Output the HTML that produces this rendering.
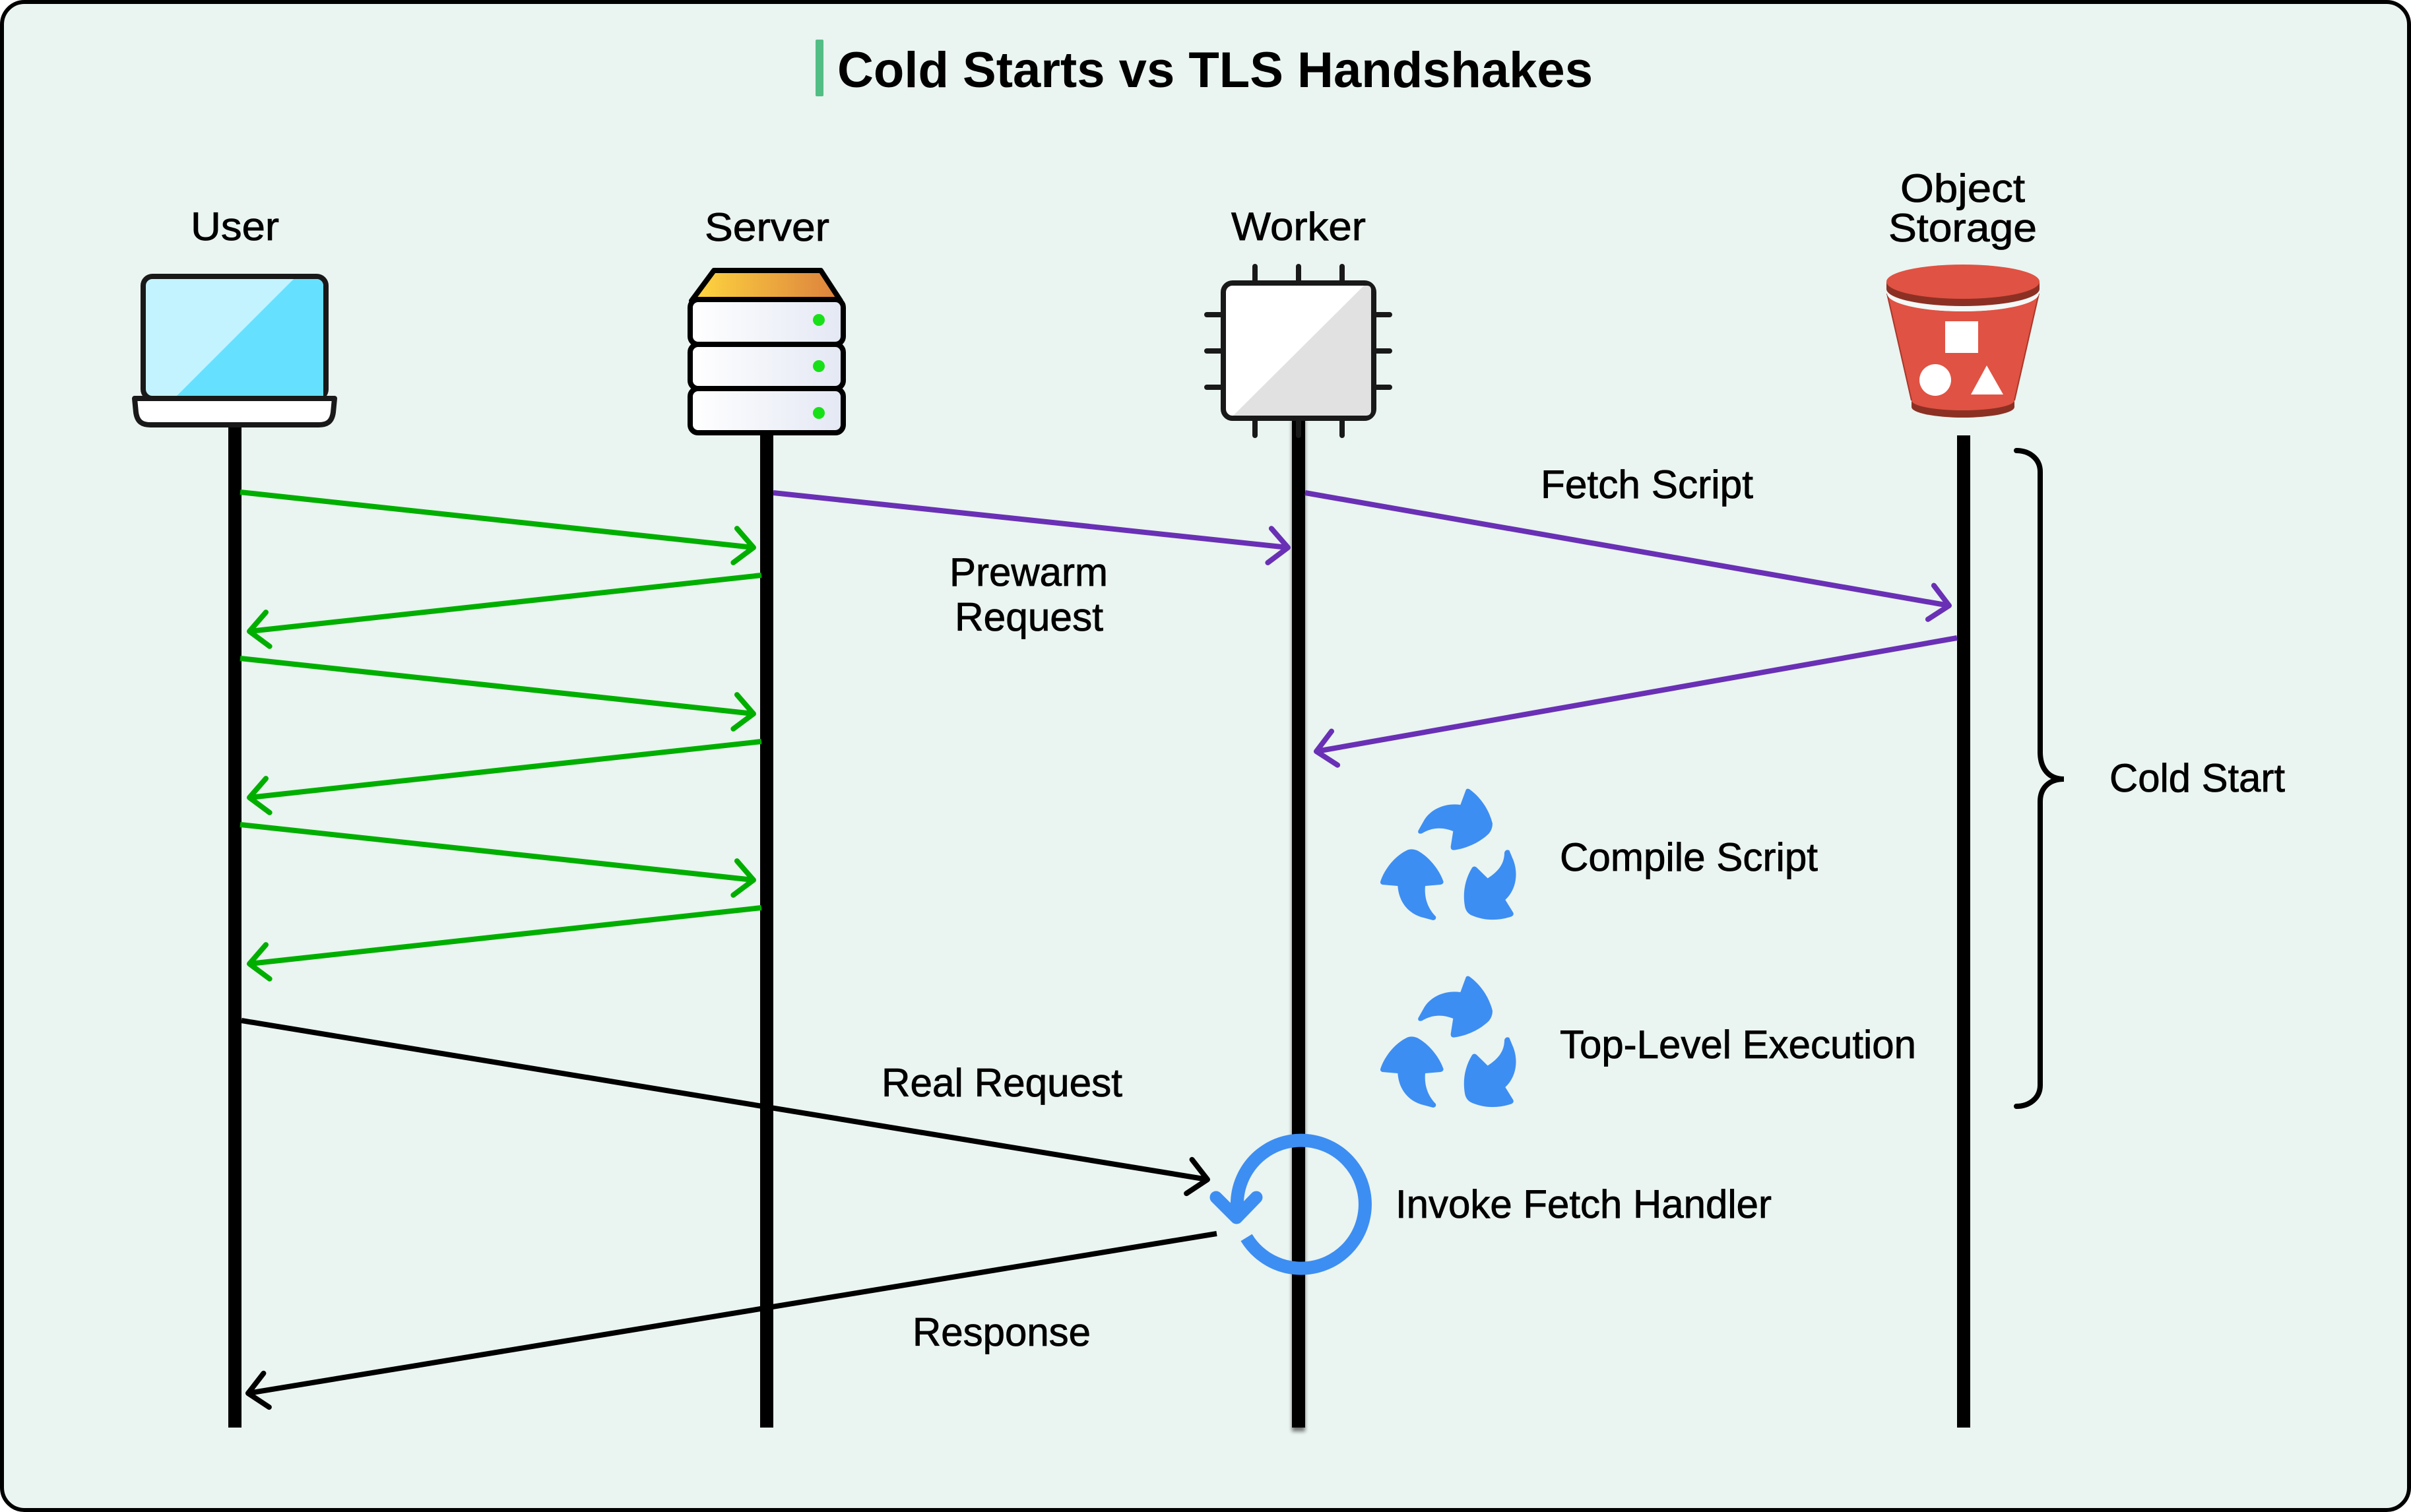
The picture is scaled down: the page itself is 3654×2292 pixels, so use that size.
<!DOCTYPE html>
<html lang="en">
<head>
<meta charset="utf-8">
<title>Cold Starts vs TLS Handshakes</title>
<style>
html,body{margin:0;padding:0;background:#fff}
svg{display:block}
text{font-family:"Liberation Sans",sans-serif;font-size:60px;fill:#000;stroke:#000;stroke-width:.8px}
</style>
</head>
<body>
<svg xmlns="http://www.w3.org/2000/svg" width="3654" height="2292" viewBox="0 0 3654 2292">
<defs>
<marker id="mg" markerUnits="userSpaceOnUse" viewBox="-40 -40 50 80" markerWidth="50" markerHeight="80" refX="0" refY="0" orient="auto"><path d="M-28 -26L0 0L-28 26" fill="none" stroke="#00AE00" stroke-width="8" stroke-linecap="round" stroke-linejoin="round"/></marker>
<marker id="mp" markerUnits="userSpaceOnUse" viewBox="-40 -40 50 80" markerWidth="50" markerHeight="80" refX="0" refY="0" orient="auto"><path d="M-28 -26L0 0L-28 26" fill="none" stroke="#6930B5" stroke-width="8" stroke-linecap="round" stroke-linejoin="round"/></marker>
<marker id="mk" markerUnits="userSpaceOnUse" viewBox="-40 -40 50 80" markerWidth="50" markerHeight="80" refX="0" refY="0" orient="auto"><path d="M-28 -26L0 0L-28 26" fill="none" stroke="#000" stroke-width="8" stroke-linecap="round" stroke-linejoin="round"/></marker>
<linearGradient id="gTop" x1="0" x2="1" y1="0" y2="0"><stop offset="0" stop-color="#FFD73F"/><stop offset="1" stop-color="#DC803D"/></linearGradient>
<linearGradient id="gRow" x1="0" x2="1" y1="0" y2="0"><stop offset="0" stop-color="#FFFFFF"/><stop offset="1" stop-color="#E4E8F4"/></linearGradient>
<filter id="blur" x="-100%" y="-5%" width="300%" height="110%"><feGaussianBlur stdDeviation="3"/></filter>
<g id="recycle" fill="#3D8EF2">
<path d="M328 298L355 250C385 200 450 170 520 180L545 112Q552 102 565 112C610 145 650 200 666 265Q666 290 650 310C610 350 550 378 490 386Q475 386 476 370L487 300C440 282 395 280 345 310Q325 315 328 298Z"/>
<path d="M156 530C175 470 225 410 280 385Q300 378 325 388C375 415 425 475 443 530Q443 540 430 543L360 549C355 600 370 650 408 688Q412 703 396 705L340 690C280 670 240 620 235 549L165 543Q155 540 156 530Z"/>
<path d="M720 398Q725 380 742 387L762 435C785 500 770 570 724 612L760 670Q765 682 752 688C690 708 630 708 570 682Q545 670 540 640C530 580 540 520 573 466Q583 455 595 466L644 514C690 485 720 450 720 398Z"/>
</g>
</defs>

<rect x="3" y="3" width="3648" height="2286" rx="34" ry="34" fill="#EAF4F0" stroke="#000" stroke-width="6"/>

<!-- title -->
<rect x="1236" y="60" width="12" height="86" rx="2" fill="#52BE85"/>
<text x="1269" y="132" style="font-size:76px;font-weight:700;stroke-width:0" textLength="1145" lengthAdjust="spacingAndGlyphs">Cold Starts vs TLS Handshakes</text>

<!-- lifelines -->
<rect x="346" y="640" width="20" height="1524" fill="#000"/>
<rect x="1152" y="650" width="20" height="1514" fill="#000"/>
<rect x="1958" y="636" width="20" height="1534" fill="#000" opacity=".5" filter="url(#blur)"/>
<rect x="1958" y="636" width="20" height="1528" fill="#000"/>
<rect x="2966" y="660" width="20" height="1504" fill="#000"/>

<!-- actor labels -->
<text x="289" y="364" textLength="134" lengthAdjust="spacingAndGlyphs">User</text>
<text x="1068" y="365" textLength="189" lengthAdjust="spacingAndGlyphs">Server</text>
<text x="1866" y="364" textLength="204" lengthAdjust="spacingAndGlyphs">Worker</text>
<text x="2880" y="306" textLength="189" lengthAdjust="spacingAndGlyphs">Object</text>
<text x="2862" y="366" textLength="225" lengthAdjust="spacingAndGlyphs">Storage</text>

<!-- laptop -->
<rect x="217" y="419" width="277" height="185" rx="14" fill="#C3F3FF" stroke="#191919" stroke-width="8"/>
<path d="M445 423H478Q490 423 490 435V600H268Z" fill="#66E0FF"/>
<path d="M204 604H507L505 625C503 640 495 644 483 644H228C216 644 208 640 206 625Z" fill="#fff" stroke="#191919" stroke-width="8" stroke-linejoin="round"/>

<!-- server -->
<path d="M1082 410H1244L1274 456H1048Z" fill="url(#gTop)" stroke="#000" stroke-width="8" stroke-linejoin="round"/>
<rect x="1046" y="454" width="232" height="68" rx="12" fill="url(#gRow)" stroke="#000" stroke-width="8"/>
<rect x="1046" y="522" width="232" height="67" rx="12" fill="url(#gRow)" stroke="#000" stroke-width="8"/>
<rect x="1046" y="589" width="232" height="67" rx="12" fill="url(#gRow)" stroke="#000" stroke-width="8"/>
<circle cx="1241" cy="485" r="9" fill="#18E018"/>
<circle cx="1241" cy="555" r="9" fill="#18E018"/>
<circle cx="1241" cy="626" r="9" fill="#18E018"/>

<!-- worker chip -->
<g stroke="#191919" stroke-width="8" stroke-linecap="round">
<path d="M1902 404V425M1968 404V425M2034 404V425M1902 638V660M1968 638V660M2034 638V660"/>
<path d="M1829 477H1850M1829 532H1850M1829 587H1850M2086 477H2106M2086 532H2106M2086 587H2106"/>
</g>
<rect x="1854" y="429" width="228" height="205" rx="14" fill="#fff" stroke="#191919" stroke-width="8"/>
<path d="M2067 433H2072Q2078 433 2078 440V622Q2078 630 2070 630H1869Z" fill="#E1E1E1"/>

<!-- bucket -->
<path d="M2897 607V617A78 16 0 0 0 3053 617V607Z" fill="#8C3024"/>
<path d="M2860 445A115 27 0 0 0 3090 445L3053 607A78 15 0 0 1 2897 607Z" fill="#E05243"/>
<path d="M2860 445L2897 607M3090 445L3053 607" stroke="#A8372B" stroke-width="2" fill="none"/>
<path d="M2860 428V445A115 27 0 0 0 3090 445V428Z" fill="#F4F8F6"/>
<path d="M2859 427V438A116 26 0 0 0 3091 438V427Z" fill="#8C3024"/>
<ellipse cx="2975" cy="427" rx="116" ry="26" fill="#E05243"/>
<rect x="2948" y="487" width="50" height="48" fill="#fff"/>
<circle cx="2933" cy="576" r="24" fill="#fff"/>
<path d="M3011 554L3036 598H2987Z" fill="#fff"/>

<!-- green -->
<g fill="none" stroke="#00AE00" stroke-width="8">
<path d="M364 746L1142 830" marker-end="url(#mg)"/>
<path d="M1154 872L378 957" marker-end="url(#mg)"/>
<path d="M364 998L1142 1082" marker-end="url(#mg)"/>
<path d="M1154 1124L378 1209" marker-end="url(#mg)"/>
<path d="M364 1250L1142 1334" marker-end="url(#mg)"/>
<path d="M1154 1376L378 1461" marker-end="url(#mg)"/>
</g>

<!-- purple -->
<g fill="none" stroke="#6930B5" stroke-width="8">
<path d="M1172 747L1952 830" marker-end="url(#mp)"/>
<path d="M1978 747L2954 918" marker-end="url(#mp)"/>
<path d="M2966 967L1995 1139" marker-end="url(#mp)"/>
</g>

<!-- black -->
<g fill="none" stroke="#000" stroke-width="8">
<path d="M366 1547L1830 1788" marker-end="url(#mk)"/>
<path d="M1844 1870L376 2112" marker-end="url(#mk)"/>
</g>

<!-- brace -->
<path d="M3056 683C3075 683 3092 695 3092 715V1140C3092 1165 3105 1181 3128 1181C3105 1181 3092 1195 3092 1215V1645C3092 1665 3075 1677 3056 1677" fill="none" stroke="#000" stroke-width="8" stroke-linecap="round"/>

<!-- recycle icons -->
<use href="#recycle" transform="translate(2040 1160) scale(.33333)"/>
<use href="#recycle" transform="translate(2040 1444) scale(.33333)"/>

<!-- refresh icon -->
<path d="M1874 1846L1875 1821A97 97 0 1 1 1889 1876" fill="none" stroke="#3D8EF2" stroke-width="20"/>
<path d="M1843 1815L1874 1846L1904 1815" fill="none" stroke="#3D8EF2" stroke-width="19" stroke-linecap="round" stroke-linejoin="round"/>

<!-- labels -->
<text x="2335" y="755" textLength="322" lengthAdjust="spacingAndGlyphs">Fetch Script</text>
<text x="1439" y="888" textLength="240" lengthAdjust="spacingAndGlyphs">Prewarm</text>
<text x="1447" y="956" textLength="225" lengthAdjust="spacingAndGlyphs">Request</text>
<text x="2364" y="1320" textLength="391" lengthAdjust="spacingAndGlyphs">Compile Script</text>
<text x="2364" y="1604" textLength="540" lengthAdjust="spacingAndGlyphs">Top-Level Execution</text>
<text x="2115" y="1846" textLength="570" lengthAdjust="spacingAndGlyphs">Invoke Fetch Handler</text>
<text x="1336" y="1662" textLength="365" lengthAdjust="spacingAndGlyphs">Real Request</text>
<text x="1383" y="2040" textLength="270" lengthAdjust="spacingAndGlyphs">Response</text>
<text x="3197" y="1200" textLength="266" lengthAdjust="spacingAndGlyphs">Cold Start</text>
</svg>
</body>
</html>
